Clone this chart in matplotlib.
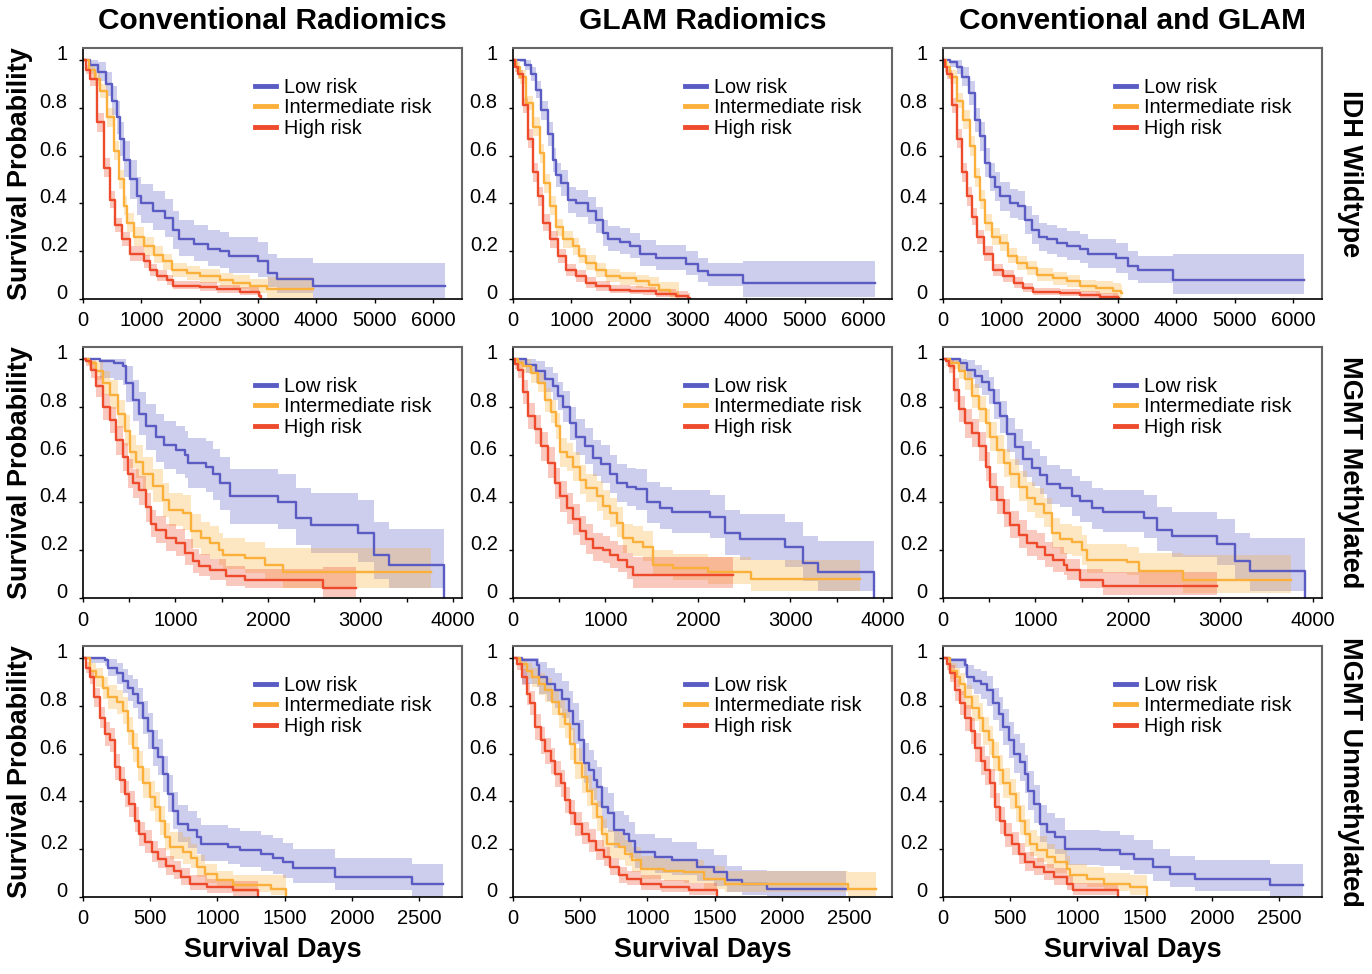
import matplotlib
matplotlib.use('Agg')
import matplotlib.pyplot as plt
from matplotlib.lines import Line2D
from matplotlib.ticker import MultipleLocator
import numpy as np

plt.rcParams['font.family'] = ['Liberation Sans', 'DejaVu Sans']

col_titles = ['Conventional Radiomics', 'GLAM Radiomics', 'Conventional and GLAM']
row_titles = ['IDH Wildtype', 'MGMT Methylated', 'MGMT Unmethylated']
group_names = ['Low risk', 'Intermediate risk', 'High risk']
row_xmax = [6500, 4100, 2820]
row_xticks = [[0, 1000, 2000, 3000, 4000, 5000, 6000],
              [0, 1000, 2000, 3000, 4000],
              [0, 500, 1000, 1500, 2000, 2500]]
yticks = [0, 0.2, 0.4, 0.6, 0.8, 1.0]

# Kaplan-Meier curves: (day, survival, lower CI, upper CI)
# ---- IDH wildtype ----
idh_conv_low = [(0,1.00,1.00,1.00),(120,0.98,0.95,1.00),(250,0.95,0.91,0.99),(400,0.90,0.85,0.95),
    (500,0.83,0.77,0.89),(580,0.76,0.69,0.83),(640,0.67,0.60,0.74),(700,0.58,0.51,0.66),
    (800,0.50,0.42,0.58),(930,0.43,0.35,0.51),(1000,0.40,0.32,0.48),(1200,0.37,0.29,0.45),
    (1400,0.34,0.26,0.42),(1550,0.29,0.21,0.37),(1650,0.25,0.18,0.33),(1900,0.23,0.16,0.31),
    (2150,0.21,0.14,0.29),(2350,0.20,0.13,0.28),(2500,0.18,0.11,0.26),(3000,0.16,0.09,0.24),
    (3180,0.11,0.05,0.19),(3330,0.085,0.025,0.17),(3940,0.055,0.005,0.15),(6210,0.055,0.005,0.15)]
idh_conv_int = [(0,1.00,1.00,1.00),(100,0.96,0.94,0.98),(200,0.92,0.89,0.95),(300,0.87,0.84,0.90),
    (410,0.76,0.72,0.80),(525,0.62,0.58,0.66),(610,0.50,0.46,0.54),(700,0.39,0.35,0.43),
    (750,0.32,0.28,0.36),(870,0.26,0.22,0.30),(1040,0.22,0.18,0.26),(1210,0.185,0.15,0.22),
    (1380,0.157,0.12,0.19),(1530,0.12,0.09,0.15),(1780,0.11,0.08,0.14),(2010,0.095,0.065,0.125),
    (2350,0.08,0.05,0.11),(2580,0.067,0.04,0.10),(2870,0.053,0.025,0.085),(3150,0.042,0.005,0.09),
    (3940,0.042,0.005,0.09)]
idh_conv_high = [(0,1.00,1.00,1.00),(50,0.96,0.94,0.98),(125,0.92,0.89,0.95),(240,0.74,0.70,0.78),
    (355,0.55,0.51,0.59),(470,0.415,0.38,0.45),(555,0.31,0.28,0.34),(670,0.25,0.22,0.28),
    (810,0.19,0.16,0.22),(1040,0.157,0.13,0.185),(1150,0.12,0.095,0.145),(1270,0.095,0.075,0.12),
    (1440,0.08,0.06,0.10),(1550,0.056,0.04,0.075),(2010,0.05,0.035,0.07),(2300,0.04,0.025,0.06),
    (2700,0.03,0.015,0.05),(3010,0.011,0.0,0.03),(3060,0.0,0.0,0.0)]

idh_glam_low = [(0,1.00,1.00,1.00),(115,1.00,0.99,1.00),(200,0.98,0.96,1.00),(315,0.94,0.91,0.97),
    (400,0.875,0.84,0.91),(485,0.79,0.75,0.83),(600,0.69,0.64,0.74),(690,0.58,0.53,0.63),
    (740,0.52,0.47,0.57),(830,0.485,0.43,0.54),(940,0.415,0.36,0.47),(1085,0.40,0.345,0.455),
    (1285,0.37,0.315,0.425),(1430,0.33,0.275,0.385),(1540,0.275,0.22,0.33),(1630,0.25,0.20,0.305),
    (1830,0.24,0.19,0.295),(2000,0.22,0.17,0.275),(2170,0.19,0.14,0.245),(2460,0.17,0.12,0.225),
    (2970,0.148,0.10,0.20),(3170,0.116,0.07,0.17),(3340,0.10,0.055,0.15),(3940,0.067,0.01,0.16),
    (6200,0.067,0.01,0.16)]
idh_glam_int = [(0,1.00,1.00,1.00),(50,0.97,0.95,0.99),(115,0.93,0.90,0.96),(230,0.82,0.79,0.85),
    (340,0.72,0.68,0.76),(460,0.61,0.57,0.65),(540,0.485,0.445,0.525),(630,0.39,0.35,0.43),
    (740,0.30,0.265,0.335),(860,0.25,0.215,0.285),(1030,0.22,0.185,0.255),(1140,0.18,0.15,0.215),
    (1260,0.15,0.12,0.185),(1430,0.12,0.09,0.15),(1600,0.095,0.07,0.125),(1830,0.088,0.06,0.115),
    (2110,0.074,0.045,0.10),(2340,0.06,0.035,0.09),(2510,0.039,0.015,0.07),(2690,0.022,0.005,0.07),
    (2830,0.011,0.0,0.07),(2840,0.011,0.0,0.07)]
idh_glam_high = [(0,1.00,1.00,1.00),(40,0.97,0.95,0.99),(85,0.94,0.92,0.96),(170,0.81,0.78,0.84),
    (255,0.67,0.63,0.71),(340,0.53,0.49,0.57),(430,0.43,0.39,0.47),(515,0.32,0.285,0.355),
    (630,0.25,0.215,0.285),(770,0.18,0.15,0.21),(915,0.12,0.095,0.145),(1085,0.095,0.07,0.12),
    (1260,0.067,0.045,0.09),(1430,0.053,0.035,0.075),(1660,0.039,0.025,0.06),(2000,0.035,0.02,0.055),
    (2230,0.032,0.015,0.05),(2460,0.022,0.01,0.04),(2800,0.014,0.0,0.035),(3000,0.004,0.0,0.025),
    (3040,0.0,0.0,0.0)]

idh_comb_low = [(0,1.00,1.00,1.00),(125,0.99,0.97,1.00),(240,0.97,0.94,1.00),(325,0.93,0.89,0.97),
    (440,0.86,0.81,0.91),(550,0.75,0.70,0.80),(640,0.68,0.62,0.74),(725,0.57,0.51,0.63),
    (810,0.51,0.45,0.57),(895,0.47,0.41,0.53),(980,0.43,0.37,0.49),(1150,0.40,0.34,0.46),
    (1290,0.39,0.33,0.45),(1410,0.33,0.27,0.39),(1520,0.29,0.23,0.35),(1640,0.26,0.20,0.32),
    (1780,0.25,0.19,0.31),(1950,0.234,0.175,0.295),(2120,0.223,0.165,0.285),(2350,0.21,0.15,0.27),
    (2490,0.19,0.13,0.25),(2975,0.17,0.11,0.235),(3170,0.137,0.08,0.20),(3345,0.12,0.065,0.18),
    (3940,0.08,0.02,0.19),(6190,0.08,0.02,0.19)]
idh_comb_int = [(0,1.00,1.00,1.00),(60,0.97,0.95,0.99),(125,0.93,0.90,0.96),(240,0.83,0.80,0.86),
    (350,0.75,0.71,0.79),(470,0.64,0.60,0.68),(550,0.51,0.47,0.55),(640,0.415,0.375,0.455),
    (725,0.32,0.285,0.355),(840,0.26,0.225,0.295),(980,0.234,0.20,0.27),(1120,0.18,0.15,0.215),
    (1265,0.15,0.12,0.18),(1435,0.13,0.10,0.16),(1605,0.10,0.075,0.13),(1890,0.088,0.06,0.115),
    (2120,0.074,0.05,0.10),(2350,0.053,0.03,0.08),(2630,0.046,0.02,0.075),(2915,0.032,0.005,0.065),
    (3060,0.025,0.0,0.06),(3070,0.025,0.0,0.06)]
idh_comb_high = [(0,1.00,1.00,1.00),(30,0.97,0.95,0.99),(70,0.94,0.92,0.96),(155,0.81,0.78,0.84),
    (240,0.67,0.63,0.71),(325,0.53,0.49,0.57),(410,0.43,0.39,0.47),(495,0.345,0.31,0.38),
    (580,0.26,0.23,0.29),(695,0.19,0.16,0.22),(865,0.12,0.095,0.145),(1035,0.095,0.07,0.12),
    (1210,0.067,0.045,0.09),(1380,0.046,0.03,0.065),(1550,0.028,0.015,0.045),(2005,0.025,0.012,0.04),
    (2350,0.018,0.005,0.035),(2690,0.008,0.0,0.025),(3000,0.003,0.0,0.015),(3020,0.0,0.0,0.0)]

# ---- MGMT methylated ----
meth_conv_low = [(0,1.00,1.00,1.00),(180,0.99,0.92,1.00),(340,0.985,0.91,1.00),(430,0.97,0.89,1.00),
    (470,0.90,0.82,0.97),(540,0.83,0.74,0.91),(610,0.77,0.68,0.86),(685,0.72,0.62,0.81),
    (790,0.675,0.57,0.77),(880,0.64,0.54,0.74),(1010,0.62,0.52,0.72),(1100,0.60,0.50,0.70),
    (1135,0.565,0.46,0.67),(1330,0.55,0.445,0.655),(1405,0.52,0.41,0.625),(1480,0.48,0.37,0.59),
    (1585,0.425,0.31,0.54),(2110,0.40,0.29,0.52),(2305,0.335,0.22,0.46),(2470,0.305,0.19,0.44),
    (2975,0.27,0.15,0.41),(3150,0.18,0.08,0.32),(3315,0.14,0.04,0.29),(3910,0.0,0.0,0.0)]
meth_conv_int = [(0,1.00,1.00,1.00),(70,0.985,0.96,1.00),(145,0.95,0.91,0.99),(215,0.90,0.85,0.95),
    (290,0.85,0.79,0.91),(380,0.77,0.71,0.83),(450,0.70,0.635,0.765),(505,0.61,0.545,0.68),
    (575,0.57,0.50,0.64),(650,0.52,0.45,0.59),(755,0.47,0.40,0.54),(865,0.41,0.34,0.48),
    (935,0.37,0.30,0.44),(1080,0.355,0.285,0.43),(1170,0.28,0.21,0.35),(1280,0.25,0.18,0.32),
    (1370,0.23,0.165,0.30),(1475,0.20,0.14,0.27),(1515,0.18,0.12,0.25),(1750,0.167,0.105,0.235),
    (1965,0.14,0.08,0.21),(2160,0.107,0.04,0.21),(3765,0.107,0.04,0.21)]
meth_conv_high = [(0,1.00,1.00,1.00),(35,0.99,0.97,1.00),(90,0.955,0.92,0.99),(145,0.885,0.84,0.93),
    (215,0.80,0.745,0.855),(290,0.745,0.69,0.80),(360,0.66,0.60,0.72),(430,0.59,0.53,0.65),
    (485,0.52,0.46,0.58),(540,0.48,0.42,0.54),(610,0.45,0.39,0.51),(685,0.38,0.32,0.44),
    (740,0.31,0.255,0.37),(790,0.285,0.23,0.345),(900,0.25,0.195,0.31),(1010,0.23,0.175,0.29),
    (1100,0.19,0.14,0.245),(1190,0.153,0.105,0.205),(1260,0.132,0.09,0.185),(1370,0.118,0.075,0.165),
    (1550,0.09,0.05,0.135),(1750,0.074,0.04,0.12),(2595,0.042,0.005,0.13),(2955,0.042,0.005,0.13)]

meth_glam_low = [(0,1.00,1.00,1.00),(55,1.00,0.98,1.00),(145,0.975,0.94,1.00),(250,0.95,0.90,0.99),
    (345,0.915,0.86,0.965),(435,0.885,0.83,0.94),(490,0.845,0.785,0.905),(540,0.80,0.735,0.865),
    (615,0.73,0.66,0.80),(685,0.675,0.60,0.75),(775,0.635,0.56,0.71),(865,0.585,0.51,0.66),
    (955,0.56,0.48,0.64),(1045,0.52,0.44,0.60),(1120,0.48,0.40,0.56),(1230,0.465,0.385,0.545),
    (1335,0.455,0.37,0.54),(1445,0.40,0.315,0.485),(1590,0.375,0.29,0.465),(1715,0.36,0.27,0.45),
    (2130,0.34,0.25,0.43),(2290,0.27,0.18,0.37),(2455,0.245,0.16,0.35),(2940,0.215,0.13,0.32),
    (3140,0.145,0.07,0.26),(3300,0.11,0.03,0.24),(3900,0.0,0.0,0.0)]
meth_glam_int = [(0,1.00,1.00,1.00),(50,0.985,0.96,1.00),(110,0.97,0.94,1.00),(200,0.94,0.90,0.98),
    (270,0.90,0.86,0.94),(345,0.83,0.78,0.88),(415,0.78,0.73,0.83),(470,0.72,0.665,0.775),
    (505,0.61,0.55,0.67),(580,0.59,0.53,0.65),(650,0.55,0.49,0.61),(720,0.495,0.435,0.555),
    (795,0.46,0.40,0.52),(905,0.425,0.365,0.49),(975,0.385,0.325,0.45),(1045,0.355,0.295,0.42),
    (1120,0.315,0.255,0.38),(1190,0.25,0.19,0.31),(1300,0.235,0.175,0.30),(1410,0.215,0.155,0.28),
    (1515,0.14,0.09,0.20),(1735,0.125,0.075,0.185),(2110,0.107,0.06,0.17),(2580,0.08,0.03,0.16),
    (3755,0.08,0.03,0.16)]
meth_glam_high = [(0,1.00,1.00,1.00),(25,0.98,0.96,1.00),(55,0.955,0.92,0.99),(110,0.86,0.81,0.91),
    (160,0.76,0.705,0.815),(235,0.705,0.645,0.765),(305,0.635,0.575,0.695),(380,0.565,0.50,0.63),
    (450,0.48,0.415,0.545),(505,0.425,0.36,0.49),(580,0.375,0.31,0.44),(650,0.33,0.265,0.395),
    (720,0.28,0.22,0.345),(795,0.245,0.185,0.31),(865,0.21,0.155,0.27),(975,0.20,0.145,0.26),
    (1045,0.18,0.125,0.24),(1135,0.16,0.11,0.22),(1230,0.13,0.08,0.19),(1300,0.098,0.04,0.17),
    (2380,0.098,0.04,0.17)]

meth_comb_low = [(0,1.00,1.00,1.00),(100,1.00,0.98,1.00),(185,0.985,0.955,1.00),(260,0.955,0.915,0.995),
    (350,0.93,0.88,0.975),(420,0.905,0.85,0.955),(495,0.87,0.81,0.925),(550,0.815,0.75,0.875),
    (620,0.76,0.69,0.825),(690,0.685,0.61,0.755),(780,0.63,0.555,0.705),(870,0.58,0.505,0.655),
    (960,0.545,0.47,0.625),(1050,0.515,0.435,0.595),(1125,0.475,0.395,0.555),(1270,0.46,0.38,0.54),
    (1395,0.425,0.345,0.51),(1485,0.405,0.32,0.49),(1610,0.375,0.29,0.46),(1735,0.36,0.275,0.45),
    (2170,0.335,0.25,0.43),(2315,0.285,0.195,0.38),(2475,0.26,0.17,0.36),(2965,0.225,0.14,0.33),
    (3160,0.155,0.07,0.27),(3325,0.115,0.03,0.25),(3915,0.0,0.0,0.0)]
meth_comb_int = [(0,1.00,1.00,1.00),(80,0.985,0.96,1.00),(170,0.95,0.915,0.985),(240,0.915,0.87,0.96),
    (315,0.845,0.795,0.895),(385,0.79,0.735,0.845),(460,0.73,0.67,0.79),(510,0.675,0.615,0.735),
    (585,0.62,0.56,0.68),(655,0.565,0.505,0.625),(730,0.52,0.46,0.58),(820,0.465,0.405,0.53),
    (910,0.42,0.36,0.485),(1000,0.395,0.335,0.46),(1090,0.355,0.295,0.42),(1180,0.27,0.21,0.335),
    (1270,0.245,0.185,0.31),(1395,0.235,0.175,0.30),(1500,0.20,0.14,0.265),(1555,0.16,0.105,0.225),
    (1990,0.15,0.095,0.215),(2115,0.115,0.06,0.19),(2600,0.077,0.02,0.18),(3770,0.077,0.02,0.18)]
meth_comb_high = [(0,1.00,1.00,1.00),(30,0.99,0.97,1.00),(60,0.97,0.94,1.00),(115,0.87,0.82,0.92),
    (170,0.79,0.735,0.845),(240,0.73,0.67,0.79),(315,0.69,0.63,0.75),(385,0.635,0.575,0.695),
    (460,0.55,0.49,0.61),(510,0.465,0.405,0.525),(585,0.41,0.35,0.47),(655,0.355,0.295,0.415),
    (730,0.305,0.25,0.365),(820,0.265,0.21,0.325),(910,0.23,0.175,0.285),(1015,0.215,0.16,0.27),
    (1105,0.18,0.13,0.235),(1195,0.16,0.11,0.215),(1305,0.14,0.095,0.19),(1340,0.118,0.075,0.165),
    (1485,0.077,0.04,0.12),(1735,0.049,0.012,0.11),(2960,0.049,0.012,0.11)]

# ---- MGMT unmethylated ----
unmeth_conv_low = [(0,1.00,1.00,1.00),(50,1.00,0.98,1.00),(160,0.99,0.965,1.00),(185,0.96,0.925,0.995),
    (250,0.935,0.89,0.98),(300,0.905,0.855,0.955),(335,0.875,0.82,0.93),(370,0.85,0.79,0.91),
    (410,0.81,0.745,0.875),(445,0.75,0.68,0.82),(485,0.695,0.62,0.77),(520,0.625,0.55,0.70),
    (560,0.585,0.51,0.66),(595,0.515,0.44,0.59),(630,0.43,0.355,0.51),(670,0.36,0.285,0.44),
    (705,0.305,0.23,0.385),(780,0.28,0.205,0.36),(845,0.25,0.18,0.33),(880,0.22,0.15,0.30),
    (1080,0.21,0.14,0.29),(1165,0.195,0.125,0.275),(1325,0.18,0.11,0.26),(1415,0.165,0.095,0.245),
    (1490,0.145,0.08,0.225),(1560,0.12,0.06,0.20),(1875,0.085,0.03,0.165),(2445,0.056,0.0,0.14),
    (2680,0.056,0.0,0.14)]
unmeth_conv_int = [(0,1.00,1.00,1.00),(50,0.945,0.91,0.98),(100,0.92,0.88,0.96),(150,0.875,0.83,0.92),
    (185,0.835,0.785,0.885),(250,0.815,0.765,0.865),(300,0.78,0.725,0.835),(335,0.695,0.635,0.755),
    (370,0.625,0.565,0.685),(410,0.545,0.485,0.61),(445,0.475,0.415,0.54),(495,0.42,0.36,0.485),
    (535,0.375,0.315,0.44),(570,0.32,0.26,0.38),(610,0.25,0.195,0.31),(645,0.21,0.16,0.27),
    (745,0.19,0.14,0.25),(805,0.165,0.12,0.22),(845,0.125,0.085,0.175),(905,0.095,0.06,0.14),
    (1000,0.07,0.04,0.11),(1115,0.049,0.02,0.09),(1400,0.035,0.01,0.09),(1510,0.0,0.0,0.0)]
unmeth_conv_high = [(0,1.00,1.00,1.00),(25,0.96,0.935,0.985),(50,0.92,0.89,0.95),(85,0.835,0.795,0.875),
    (125,0.75,0.705,0.795),(160,0.68,0.63,0.73),(200,0.655,0.605,0.705),(235,0.545,0.49,0.60),
    (275,0.49,0.435,0.545),(310,0.43,0.375,0.485),(345,0.39,0.335,0.445),(385,0.32,0.27,0.375),
    (420,0.265,0.215,0.315),(460,0.23,0.185,0.28),(510,0.19,0.145,0.235),(560,0.16,0.12,0.205),
    (620,0.13,0.09,0.17),(680,0.11,0.075,0.15),(730,0.084,0.05,0.12),(795,0.056,0.03,0.09),
    (920,0.042,0.015,0.075),(1115,0.031,0.005,0.065),(1300,0.0,0.0,0.0)]

unmeth_glam_low = [(0,1.00,1.00,1.00),(65,0.99,0.89,1.00),(180,0.97,0.88,1.00),(190,0.92,0.85,0.985),
    (255,0.89,0.82,0.96),(315,0.865,0.79,0.935),(365,0.83,0.75,0.905),(415,0.78,0.70,0.86),
    (450,0.725,0.64,0.81),(490,0.655,0.57,0.74),(525,0.56,0.475,0.645),(565,0.53,0.445,0.615),
    (600,0.49,0.405,0.575),(625,0.46,0.375,0.545),(665,0.375,0.29,0.46),(710,0.35,0.27,0.435),
    (750,0.28,0.205,0.36),(825,0.265,0.19,0.345),(860,0.235,0.165,0.315),(910,0.19,0.12,0.265),
    (1060,0.167,0.10,0.245),(1185,0.153,0.09,0.23),(1370,0.125,0.065,0.20),(1495,0.104,0.045,0.175),
    (1595,0.07,0.02,0.13),(1705,0.056,0.01,0.115),(1890,0.035,0.0,0.11),(2475,0.035,0.0,0.11)]
unmeth_glam_int = [(0,1.00,1.00,1.00),(55,0.975,0.95,1.00),(105,0.945,0.91,0.98),(140,0.92,0.88,0.96),
    (190,0.89,0.845,0.935),(240,0.865,0.815,0.915),(290,0.815,0.76,0.87),(340,0.765,0.705,0.825),
    (390,0.725,0.665,0.785),(425,0.64,0.575,0.705),(465,0.56,0.495,0.625),(515,0.50,0.435,0.565),
    (550,0.445,0.38,0.51),(590,0.39,0.325,0.455),(625,0.335,0.275,0.40),(665,0.265,0.21,0.325),
    (700,0.22,0.165,0.28),(785,0.21,0.155,0.27),(835,0.18,0.13,0.24),(885,0.153,0.105,0.21),
    (950,0.118,0.075,0.17),(1120,0.11,0.065,0.16),(1270,0.104,0.06,0.155),(1420,0.077,0.035,0.13),
    (1580,0.056,0.02,0.11),(2490,0.035,0.0,0.105),(2700,0.035,0.0,0.105)]
unmeth_glam_high = [(0,1.00,1.00,1.00),(30,0.975,0.95,1.00),(65,0.92,0.885,0.955),(105,0.85,0.805,0.895),
    (130,0.81,0.76,0.86),(165,0.71,0.655,0.765),(205,0.655,0.60,0.71),(240,0.61,0.555,0.665),
    (280,0.57,0.515,0.625),(315,0.515,0.46,0.57),(355,0.475,0.42,0.53),(390,0.405,0.35,0.46),
    (425,0.35,0.30,0.405),(465,0.305,0.255,0.355),(515,0.265,0.22,0.315),(565,0.235,0.19,0.285),
    (615,0.195,0.155,0.24),(675,0.167,0.13,0.21),(725,0.125,0.09,0.165),(785,0.09,0.06,0.125),
    (850,0.077,0.05,0.11),(950,0.056,0.03,0.09),(1100,0.042,0.02,0.07),(1310,0.031,0.01,0.06),
    (1520,0.0,0.0,0.0)]

unmeth_comb_low = [(0,1.00,1.00,1.00),(55,0.99,0.96,1.00),(165,0.97,0.93,1.00),(180,0.92,0.87,0.97),
    (230,0.905,0.85,0.955),(280,0.89,0.83,0.945),(325,0.865,0.80,0.925),(375,0.81,0.74,0.875),
    (415,0.765,0.695,0.835),(450,0.71,0.635,0.785),(490,0.655,0.58,0.73),(525,0.60,0.52,0.68),
    (575,0.565,0.485,0.645),(610,0.515,0.435,0.595),(635,0.445,0.365,0.525),(675,0.39,0.31,0.47),
    (725,0.305,0.23,0.385),(775,0.27,0.20,0.35),(835,0.25,0.18,0.33),(910,0.20,0.135,0.28),
    (1170,0.195,0.13,0.275),(1320,0.18,0.115,0.26),(1420,0.16,0.095,0.24),(1565,0.125,0.065,0.20),
    (1690,0.097,0.04,0.17),(1875,0.077,0.025,0.155),(2435,0.049,0.0,0.14),(2680,0.049,0.0,0.14)]
unmeth_comb_int = [(0,1.00,1.00,1.00),(55,0.945,0.91,0.98),(105,0.92,0.88,0.96),(130,0.89,0.845,0.935),
    (165,0.835,0.785,0.885),(215,0.79,0.735,0.845),(265,0.75,0.69,0.81),(300,0.695,0.635,0.755),
    (340,0.655,0.595,0.715),(375,0.585,0.525,0.65),(415,0.53,0.47,0.595),(450,0.475,0.415,0.54),
    (500,0.43,0.37,0.495),(540,0.375,0.315,0.44),(575,0.32,0.26,0.385),(610,0.265,0.21,0.325),
    (650,0.22,0.17,0.28),(700,0.195,0.145,0.255),(775,0.167,0.12,0.22),(835,0.146,0.10,0.20),
    (920,0.118,0.075,0.17),(945,0.09,0.055,0.14),(1070,0.077,0.04,0.125),(1195,0.056,0.025,0.10),
    (1390,0.042,0.01,0.09),(1515,0.0,0.0,0.0)]
unmeth_comb_high = [(0,1.00,1.00,1.00),(30,0.975,0.95,1.00),(55,0.935,0.90,0.97),(90,0.865,0.82,0.91),
    (130,0.81,0.76,0.86),(165,0.75,0.695,0.805),(205,0.695,0.64,0.75),(240,0.625,0.565,0.685),
    (280,0.57,0.51,0.63),(315,0.53,0.47,0.59),(350,0.475,0.415,0.535),(390,0.375,0.32,0.435),
    (425,0.32,0.265,0.375),(465,0.26,0.21,0.31),(515,0.22,0.175,0.27),(565,0.18,0.14,0.225),
    (610,0.146,0.11,0.19),(675,0.125,0.09,0.165),(750,0.104,0.07,0.14),(825,0.084,0.05,0.12),
    (920,0.056,0.03,0.09),(970,0.031,0.01,0.06),(1305,0.0,0.0,0.0)]

panels = [
    [(idh_conv_low, idh_conv_int, idh_conv_high),
     (idh_glam_low, idh_glam_int, idh_glam_high),
     (idh_comb_low, idh_comb_int, idh_comb_high)],
    [(meth_conv_low, meth_conv_int, meth_conv_high),
     (meth_glam_low, meth_glam_int, meth_glam_high),
     (meth_comb_low, meth_comb_int, meth_comb_high)],
    [(unmeth_conv_low, unmeth_conv_int, unmeth_conv_high),
     (unmeth_glam_low, unmeth_glam_int, unmeth_glam_high),
     (unmeth_comb_low, unmeth_comb_int, unmeth_comb_high)],
]

colors = ['#5a5cc4', '#fbb03b', '#ee4a2c']

W, H = 1372, 974
fig = plt.figure(figsize=(W/100, H/100), dpi=100)

col_left = [83, 513, 943]
row_top = [48, 347, 646]
ax_w, ax_h = 379, 251

for r in range(3):
    for c in range(3):
        ax = fig.add_axes([col_left[c]/W, 1 - (row_top[r] + ax_h)/H, ax_w/W, ax_h/H])
        curves = panels[r][c]
        for rows, col in zip(curves, colors):
            a = np.array(rows)
            ax.fill_between(a[:, 0], a[:, 2], a[:, 3], step='post', color=col, alpha=0.3, lw=0)
        for rows, col in zip(curves, colors):
            a = np.array(rows)
            ax.plot(a[:, 0], a[:, 1], drawstyle='steps-post', color=col, lw=1.7)

        ax.set_xlim(0, row_xmax[r])
        ax.set_ylim(0, 1.05)
        ax.set_xticks(row_xticks[r])
        if r == 1:
            ax.xaxis.set_minor_locator(MultipleLocator(500))
        ax.set_yticks(yticks)
        ax.set_yticklabels(['0', '0.2', '0.4', '0.6', '0.8', '1'])
        ax.tick_params(axis='both', which='both', direction='out', labelsize=14.5, length=3, width=1)
        ax.tick_params(axis='x', pad=6)
        ax.tick_params(axis='y', pad=8)
        for lab in ax.get_yticklabels():
            lab.set_va('baseline')
        for side in ['left', 'bottom']:
            ax.spines[side].set_color('black')
            ax.spines[side].set_linewidth(1.2)
        for side in ['top', 'right']:
            ax.spines[side].set_color('#666666')
            ax.spines[side].set_linewidth(1.5)

        handles = [Line2D([], [], color=col, lw=3.5) for col in colors]
        ax.legend(handles, group_names, loc='upper left', bbox_to_anchor=(0.455, 0.882),
                  frameon=False, fontsize=14.3, handlelength=1.05, handletextpad=0.4,
                  labelspacing=0.08, borderpad=0, borderaxespad=0)

        cx = (col_left[c] + ax_w/2) / W
        cy = 1 - (row_top[r] + ax_h/2) / H
        if r == 0:
            fig.text(cx, 1 - 21/H, col_titles[c], ha='center', va='center',
                     fontsize=21.5, fontweight='bold')
        if r == 2:
            fig.text(cx, 1 - 950/H, 'Survival Days', ha='center', va='center',
                     fontsize=19.5, fontweight='bold')
        if c == 0:
            fig.text(20/W, cy, 'Survival Probability', ha='center', va='center',
                     rotation=90, fontsize=19.5, fontweight='bold')
        if c == 2:
            fig.text(1350/W, cy, row_titles[r], ha='center', va='center',
                     rotation=-90, fontsize=19.5, fontweight='bold')

fig.savefig('out.png', dpi=100)
